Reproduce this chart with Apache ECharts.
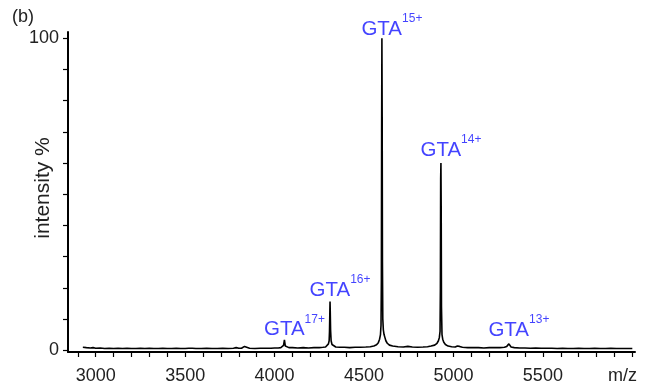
<!DOCTYPE html>
<html>
<head>
<meta charset="utf-8">
<script src="https://cdn.jsdelivr.net/npm/echarts@6/dist/echarts.min.js"></script>
<style>
  html, body { margin: 0; padding: 0; background: #fff; }
  #chart { width: 646px; height: 391px; }
</style>
</head>
<body>
<div id="chart"></div>
<script>
// Mass spectrum of GTA: m/z positions and relative intensity (%)
const mz = [
  2928, 2938, 2948, 2958, 2970, 2985, 3000, 3025, 3050, 3075,
  3100, 3125, 3150, 3175, 3200, 3225, 3250, 3275, 3300, 3325,
  3350, 3375, 3400, 3425, 3450, 3475, 3500, 3520, 3530, 3540,
  3560, 3590, 3620, 3650, 3680, 3710, 3740, 3770, 3785, 3792,
  3800, 3815, 3825, 3832, 3840, 3860, 3890, 3920, 3950, 3980,
  4000, 4020, 4035, 4045, 4050, 4053, 4055, 4057, 4060, 4066,
  4080, 4100, 4130, 4160, 4190, 4220, 4250, 4270, 4285, 4295,
  4301, 4305, 4307, 4309, 4310, 4311, 4313, 4316, 4321, 4329,
  4342, 4365, 4390, 4420, 4450, 4480, 4510, 4535, 4555, 4570,
  4580, 4587, 4592, 4595, 4597, 4598.5, 4600, 4601.5, 4603, 4605,
  4608, 4612, 4617, 4622, 4630, 4642, 4660, 4690, 4720, 4745,
  4770, 4800, 4830, 4855, 4875, 4895, 4908, 4916, 4921, 4925,
  4927, 4928.5, 4930, 4931.5, 4933, 4936, 4940, 4946, 4955, 4970,
  4990, 5010, 5022, 5028, 5034, 5050, 5080, 5110, 5140, 5170,
  5200, 5230, 5260, 5285, 5298, 5305, 5310, 5315, 5322, 5340,
  5370, 5400, 5430, 5460, 5490, 5520, 5550, 5580, 5610, 5640,
  5670, 5700, 5730, 5760, 5790, 5820, 5850, 5880, 5910, 5940, 5970, 6000
];
const intensity = [
  0.9, 1.2, 0.8, 1.1, 0.7, 0.8, 0.6, 0.7, 0.5, 0.6,
  0.5, 0.6, 0.5, 0.6, 0.5, 0.5, 0.6, 0.5, 0.6, 0.5,
  0.5, 0.6, 0.5, 0.5, 0.6, 0.5, 0.5, 0.6, 1.0, 0.6,
  0.5, 0.5, 0.6, 0.5, 0.5, 0.6, 0.5, 0.6, 0.8, 1.1,
  0.6, 0.6, 0.9, 1.2, 0.7, 0.6, 0.5, 0.6, 0.6, 0.6,
  0.7, 0.7, 0.8, 1.0, 1.5, 2.6, 3.3, 2.5, 1.3, 0.9,
  0.8, 0.8, 0.7, 0.8, 0.7, 0.8, 0.8, 0.9, 1.0, 1.3,
  2.0, 3.0, 6.0, 12.5, 15.6, 13.0, 6.5, 3.0, 1.8, 1.3,
  1.0, 0.9, 0.9, 0.8, 0.9, 0.9, 1.0, 1.1, 1.3, 1.7,
  2.4, 3.5, 5.0, 8.0, 22, 70, 100, 75, 28, 10,
  6.5, 5.0, 4.0, 3.0, 2.2, 1.6, 1.3, 1.1, 1.0, 1.2,
  1.0, 0.9, 1.0, 1.1, 1.3, 1.6, 2.2, 3.0, 4.0, 6.0,
  20, 55, 60, 45, 14, 5.0, 3.5, 2.5, 1.8, 1.3,
  1.1, 1.0, 1.3, 1.9, 1.2, 0.9, 0.8, 0.8, 0.8, 0.7,
  0.8, 0.8, 0.8, 0.9, 1.2, 1.7, 2.0, 1.5, 1.0, 0.8,
  0.7, 0.7, 0.6, 0.7, 0.6, 0.6, 0.6, 0.5, 0.6, 0.5,
  0.5, 0.6, 0.5, 0.5, 0.6, 0.5, 0.5, 0.6, 0.5, 0.5, 0.5, 0.5
];

// Charge-state assignments
const peakMz = [4055, 4310, 4600, 4930, 5310];
const peakCharge = ['17+', '16+', '15+', '14+', '13+'];

// Axis ticks
const xTicks = [2900, 3000, 3100, 3200, 3300, 3400, 3500, 3600, 3700, 3800, 3900,
  4000, 4100, 4200, 4300, 4400, 4500, 4600, 4700, 4800, 4900,
  5000, 5100, 5200, 5300, 5400, 5500, 5600, 5700, 5800, 5900, 6000];
const xLabels = [3000, 3500, 4000, 4500, 5000, 5500];
const yTicks = [0, 10, 20, 30, 40, 50, 60, 70, 80, 90, 100];
const yLabels = [0, 100];

const FONT = 'Liberation Sans, Arial, sans-serif';
const BLUE = '#1414ff';
// gap between each peak top and its label
const labelGap = [4, 5, 3, 7, 8];

const spectrum = mz.map((m, i) => [m, intensity[i]]);

// label anchors sit on the highest point of the spectrum near each assigned peak
const peakPoints = peakMz.map((p, k) => {
  let best = null;
  spectrum.forEach(pt => {
    if (Math.abs(pt[0] - p) <= 6 && (!best || pt[1] > best[1])) best = pt;
  });
  return {
    value: best,
    charge: peakCharge[k],
    label: { distance: labelGap[k] }
  };
});

const chart = echarts.init(document.getElementById('chart'), null, { renderer: 'canvas' });
chart.setOption({
  animation: false,
  backgroundColor: '#fff',
  grid: { left: 68, right: 11, top: 32, bottom: 39, containLabel: false },
  xAxis: {
    type: 'value',
    min: 2845,
    max: 6015,
    axisLine: { show: true, onZero: false, lineStyle: { color: '#000', width: 2 } },
    axisTick: { show: true, length: 5, customValues: xTicks, lineStyle: { color: '#000', width: 1.2 } },
    axisLabel: { customValues: xLabels, margin: 15, fontFamily: FONT, fontSize: 18, color: '#222', formatter: v => String(v) },
    splitLine: { show: false }
  },
  yAxis: {
    type: 'value',
    min: -0.6,
    max: 102,
    axisLine: { show: true, onZero: false, lineStyle: { color: '#000', width: 2 } },
    axisTick: { show: true, length: 5, customValues: yTicks, lineStyle: { color: '#000', width: 1.2 } },
    axisLabel: { customValues: yLabels, margin: 9, fontFamily: FONT, fontSize: 18, color: '#222', formatter: v => String(v) },
    splitLine: { show: false }
  },
  series: [
    {
      type: 'line',
      data: spectrum,
      showSymbol: false,
      symbol: 'none',
      lineStyle: { color: '#000', width: 1.6 },
      z: 3
    },
    {
      type: 'scatter',
      data: peakPoints,
      symbolSize: 1,
      itemStyle: { color: 'rgba(0,0,0,0)' },
      label: {
        show: true,
        position: 'top',
        offset: [10, 5],
        formatter: p => '{a|GTA}{s|' + p.data.charge + '}',
        rich: {
          a: { fontFamily: FONT, fontSize: 20.5, color: BLUE, lineHeight: 22, verticalAlign: 'bottom' },
          s: { fontFamily: FONT, fontSize: 12, color: BLUE, lineHeight: 12, padding: [0, 0, 15, 0], verticalAlign: 'bottom' }
        }
      },
      z: 4
    }
  ],
  graphic: [
    {
      type: 'text', left: 12, top: 8,
      style: { text: '(b)', fontFamily: FONT, fontSize: 18, fill: '#222' }
    },
    {
      type: 'text', x: 43, y: 188, rotation: Math.PI / 2,
      style: { text: 'intensity %', fontFamily: FONT, fontSize: 21, fill: '#222', align: 'center', verticalAlign: 'middle' }
    },
    {
      type: 'text', right: 9, top: 367,
      style: { text: 'm/z', fontFamily: FONT, fontSize: 18, fill: '#222' }
    }
  ]
});
</script>
</body>
</html>
